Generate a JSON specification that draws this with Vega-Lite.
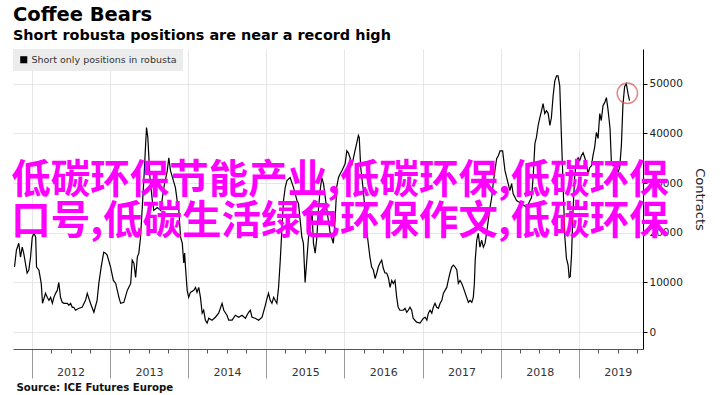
{
  "$schema": "https://vega.github.io/schema/vega-lite/v6.json",
  "width": 630,
  "height": 300,
  "autosize": {"type": "none"},
  "padding": {"left": 13, "top": 49, "right": 77, "bottom": 46},
  "background": "white",
  "config": {"view": {"stroke": null}, "font": "DejaVu Sans"},
  "title": {
    "text": "Coffee Bears",
    "subtitle": "Short robusta positions are near a record high",
    "anchor": "start",
    "frame": "group",
    "font": "DejaVu Sans",
    "fontSize": 19.5,
    "fontWeight": "bold",
    "color": "#000000",
    "subtitleFont": "DejaVu Sans",
    "subtitleFontSize": 14.4,
    "subtitleFontWeight": "bold",
    "subtitleColor": "#000000",
    "subtitlePadding": 3,
    "offset": 6
  },
  "datasets": {
    "series": [
      {"date":"2011-10-13","contracts":13100},{"date":"2011-10-22","contracts":16500},{"date":"2011-11-02","contracts":17900},{"date":"2011-11-10","contracts":15100},{"date":"2011-11-18","contracts":17100},{"date":"2011-11-25","contracts":15900},{"date":"2011-12-11","contracts":11900},{"date":"2011-12-19","contracts":12500},{"date":"2011-12-27","contracts":15100},
      {"date":"2012-01-04","contracts":19100},{"date":"2012-01-12","contracts":19900},{"date":"2012-01-20","contracts":19100},{"date":"2012-01-24","contracts":13100},{"date":"2012-02-04","contracts":12500},{"date":"2012-02-15","contracts":9800},{"date":"2012-02-21","contracts":5800},{"date":"2012-03-06","contracts":7800},{"date":"2012-03-14","contracts":7000},{"date":"2012-03-22","contracts":6400},{"date":"2012-03-30","contracts":7000},{"date":"2012-04-07","contracts":5800},{"date":"2012-04-14","contracts":7000},{"date":"2012-04-22","contracts":7800},{"date":"2012-04-30","contracts":8400},{"date":"2012-05-07","contracts":10000},{"date":"2012-05-15","contracts":7000},{"date":"2012-05-23","contracts":6000},{"date":"2012-05-31","contracts":5800},{"date":"2012-06-16","contracts":5800},{"date":"2012-06-23","contracts":5400},{"date":"2012-07-01","contracts":5800},{"date":"2012-07-09","contracts":5000},{"date":"2012-07-16","contracts":5000},{"date":"2012-07-24","contracts":4400},{"date":"2012-08-09","contracts":4800},{"date":"2012-08-24","contracts":5000},{"date":"2012-09-09","contracts":6400},{"date":"2012-09-17","contracts":7800},{"date":"2012-10-02","contracts":5800},{"date":"2012-10-18","contracts":4000},{"date":"2012-11-02","contracts":6400},{"date":"2012-11-10","contracts":9800},{"date":"2012-11-21","contracts":13100},{"date":"2012-12-03","contracts":16100},{"date":"2012-12-11","contracts":15900},{"date":"2012-12-19","contracts":15500},
      {"date":"2013-01-04","contracts":13100},{"date":"2013-01-17","contracts":10400},{"date":"2013-01-28","contracts":9800},{"date":"2013-02-12","contracts":7000},{"date":"2013-02-20","contracts":5800},{"date":"2013-03-07","contracts":6000},{"date":"2013-03-23","contracts":8400},{"date":"2013-04-08","contracts":9800},{"date":"2013-04-15","contracts":14500},{"date":"2013-04-23","contracts":13900},{"date":"2013-05-01","contracts":11000},{"date":"2013-05-09","contracts":15100},{"date":"2013-05-16","contracts":15900},{"date":"2013-05-24","contracts":19100},{"date":"2013-06-01","contracts":25100},{"date":"2013-06-09","contracts":31100},{"date":"2013-06-17","contracts":38000},{"date":"2013-06-21","contracts":41200},{"date":"2013-06-27","contracts":39200},{"date":"2013-07-07","contracts":31100},{"date":"2013-07-18","contracts":26500},{"date":"2013-07-25","contracts":24500},{"date":"2013-08-10","contracts":25100},{"date":"2013-08-26","contracts":24500},{"date":"2013-09-10","contracts":29100},{"date":"2013-09-26","contracts":32500},{"date":"2013-10-03","contracts":35100},{"date":"2013-10-11","contracts":32500},{"date":"2013-11-03","contracts":29100},{"date":"2013-11-11","contracts":26500},{"date":"2013-11-19","contracts":24500},{"date":"2013-11-27","contracts":19100},{"date":"2013-12-05","contracts":17900},{"date":"2013-12-12","contracts":13900},{"date":"2013-12-16","contracts":15900},{"date":"2013-12-20","contracts":13100},{"date":"2013-12-28","contracts":8400},
      {"date":"2014-01-04","contracts":7000},{"date":"2014-01-12","contracts":8000},{"date":"2014-01-28","contracts":8400},{"date":"2014-02-05","contracts":9000},{"date":"2014-02-12","contracts":8000},{"date":"2014-02-20","contracts":9000},{"date":"2014-02-28","contracts":7000},{"date":"2014-03-08","contracts":3800},{"date":"2014-03-15","contracts":4400},{"date":"2014-03-23","contracts":2400},{"date":"2014-03-31","contracts":1800},{"date":"2014-04-08","contracts":2800},{"date":"2014-04-23","contracts":2400},{"date":"2014-05-09","contracts":3000},{"date":"2014-05-24","contracts":3800},{"date":"2014-06-09","contracts":5800},{"date":"2014-06-17","contracts":4400},{"date":"2014-07-02","contracts":3400},{"date":"2014-07-10","contracts":2400},{"date":"2014-07-26","contracts":2400},{"date":"2014-08-10","contracts":3400},{"date":"2014-08-26","contracts":3000},{"date":"2014-09-10","contracts":3400},{"date":"2014-09-26","contracts":2800},{"date":"2014-10-11","contracts":4000},{"date":"2014-10-19","contracts":4400},{"date":"2014-10-27","contracts":3000},{"date":"2014-11-11","contracts":2800},{"date":"2014-11-27","contracts":2400},{"date":"2014-12-13","contracts":3000},{"date":"2014-12-28","contracts":5400},
      {"date":"2015-01-05","contracts":6800},{"date":"2015-01-12","contracts":7800},{"date":"2015-01-20","contracts":6400},{"date":"2015-01-28","contracts":5800},{"date":"2015-02-05","contracts":7000},{"date":"2015-02-12","contracts":6400},{"date":"2015-02-20","contracts":5800},{"date":"2015-02-28","contracts":9000},{"date":"2015-03-08","contracts":14500},{"date":"2015-03-16","contracts":21100},{"date":"2015-03-23","contracts":26500},{"date":"2015-03-31","contracts":29100},{"date":"2015-04-08","contracts":30500},{"date":"2015-04-23","contracts":31100},{"date":"2015-05-09","contracts":29100},{"date":"2015-05-25","contracts":26500},{"date":"2015-06-01","contracts":25900},{"date":"2015-06-09","contracts":22500},{"date":"2015-06-17","contracts":19100},{"date":"2015-06-24","contracts":17900},{"date":"2015-07-02","contracts":10000},{"date":"2015-07-10","contracts":14500},{"date":"2015-07-18","contracts":19100},{"date":"2015-07-26","contracts":21100},{"date":"2015-08-03","contracts":24500},{"date":"2015-08-10","contracts":17900},{"date":"2015-08-18","contracts":15900},{"date":"2015-08-26","contracts":19100},{"date":"2015-09-02","contracts":24500},{"date":"2015-09-10","contracts":28500},{"date":"2015-09-18","contracts":31100},{"date":"2015-09-26","contracts":29900},{"date":"2015-10-12","contracts":24500},{"date":"2015-10-27","contracts":20000},{"date":"2015-11-11","contracts":17900},{"date":"2015-11-19","contracts":22500},{"date":"2015-11-27","contracts":29300},{"date":"2015-12-05","contracts":31100},{"date":"2015-12-13","contracts":31900},{"date":"2015-12-21","contracts":32500},
      {"date":"2016-01-05","contracts":33900},{"date":"2016-01-13","contracts":36500},{"date":"2016-01-20","contracts":36100},{"date":"2016-01-28","contracts":35100},{"date":"2016-02-05","contracts":33500},{"date":"2016-02-12","contracts":34900},{"date":"2016-02-20","contracts":36500},{"date":"2016-02-28","contracts":38000},{"date":"2016-03-07","contracts":39600},{"date":"2016-03-11","contracts":39200},{"date":"2016-03-18","contracts":33100},{"date":"2016-03-30","contracts":28500},{"date":"2016-04-07","contracts":24500},{"date":"2016-04-15","contracts":20500},{"date":"2016-04-22","contracts":17900},{"date":"2016-04-30","contracts":15100},{"date":"2016-05-08","contracts":13100},{"date":"2016-05-16","contracts":12500},{"date":"2016-05-24","contracts":10800},{"date":"2016-06-01","contracts":11900},{"date":"2016-06-08","contracts":13100},{"date":"2016-06-16","contracts":13900},{"date":"2016-06-24","contracts":14500},{"date":"2016-07-01","contracts":12900},{"date":"2016-07-09","contracts":11900},{"date":"2016-07-17","contracts":11900},{"date":"2016-07-25","contracts":11000},{"date":"2016-08-02","contracts":9000},{"date":"2016-08-10","contracts":10400},{"date":"2016-08-17","contracts":9800},{"date":"2016-08-25","contracts":10400},{"date":"2016-09-02","contracts":7000},{"date":"2016-09-09","contracts":5000},{"date":"2016-09-17","contracts":4400},{"date":"2016-10-03","contracts":4400},{"date":"2016-10-11","contracts":4800},{"date":"2016-10-19","contracts":4000},{"date":"2016-10-26","contracts":4400},{"date":"2016-11-03","contracts":5000},{"date":"2016-11-11","contracts":4400},{"date":"2016-11-18","contracts":2800},{"date":"2016-12-04","contracts":2000},{"date":"2016-12-20","contracts":1800},
      {"date":"2017-01-05","contracts":2800},{"date":"2017-01-13","contracts":3000},{"date":"2017-01-21","contracts":2400},{"date":"2017-01-28","contracts":3800},{"date":"2017-02-05","contracts":4400},{"date":"2017-02-13","contracts":3800},{"date":"2017-02-20","contracts":5000},{"date":"2017-02-28","contracts":5800},{"date":"2017-03-08","contracts":5000},{"date":"2017-03-16","contracts":4800},{"date":"2017-03-24","contracts":5800},{"date":"2017-04-01","contracts":6400},{"date":"2017-04-08","contracts":7800},{"date":"2017-04-16","contracts":8400},{"date":"2017-04-24","contracts":9000},{"date":"2017-05-01","contracts":10400},{"date":"2017-05-09","contracts":11900},{"date":"2017-05-17","contracts":13100},{"date":"2017-05-25","contracts":13500},{"date":"2017-06-02","contracts":13100},{"date":"2017-06-10","contracts":12500},{"date":"2017-06-17","contracts":9800},{"date":"2017-06-25","contracts":10400},{"date":"2017-07-03","contracts":9800},{"date":"2017-07-10","contracts":9000},{"date":"2017-07-18","contracts":8000},{"date":"2017-07-26","contracts":7000},{"date":"2017-08-03","contracts":6000},{"date":"2017-08-11","contracts":6400},{"date":"2017-08-19","contracts":6000},{"date":"2017-08-26","contracts":7000},{"date":"2017-08-31","contracts":9800},{"date":"2017-09-04","contracts":14500},{"date":"2017-09-11","contracts":18500},{"date":"2017-09-18","contracts":19900},{"date":"2017-09-26","contracts":17100},{"date":"2017-10-04","contracts":18500},{"date":"2017-10-12","contracts":17100},{"date":"2017-10-20","contracts":17900},{"date":"2017-10-27","contracts":19900},{"date":"2017-11-04","contracts":22500},{"date":"2017-11-12","contracts":25100},{"date":"2017-11-20","contracts":27100},{"date":"2017-11-27","contracts":29900},{"date":"2017-12-05","contracts":32500},{"date":"2017-12-13","contracts":34900},{"date":"2017-12-21","contracts":35500},{"date":"2017-12-29","contracts":36500},
      {"date":"2018-01-10","contracts":36500},{"date":"2018-01-21","contracts":32500},{"date":"2018-01-29","contracts":31100},{"date":"2018-02-05","contracts":29900},{"date":"2018-02-13","contracts":28500},{"date":"2018-02-21","contracts":29900},{"date":"2018-02-28","contracts":27900},{"date":"2018-03-16","contracts":26500},{"date":"2018-04-08","contracts":25900},{"date":"2018-05-02","contracts":25100},{"date":"2018-05-25","contracts":27100},{"date":"2018-06-02","contracts":31500},{"date":"2018-06-10","contracts":38000},{"date":"2018-06-17","contracts":39200},{"date":"2018-06-25","contracts":41600},{"date":"2018-07-03","contracts":43200},{"date":"2018-07-11","contracts":44600},{"date":"2018-07-18","contracts":46000},{"date":"2018-07-26","contracts":44000},{"date":"2018-08-03","contracts":44600},{"date":"2018-08-11","contracts":44000},{"date":"2018-08-19","contracts":41600},{"date":"2018-08-26","contracts":43200},{"date":"2018-09-03","contracts":47600},{"date":"2018-09-11","contracts":50600},{"date":"2018-09-19","contracts":51600},{"date":"2018-09-26","contracts":51600},{"date":"2018-10-04","contracts":49600},{"date":"2018-10-12","contracts":39200},{"date":"2018-10-20","contracts":29100},{"date":"2018-10-28","contracts":19100},{"date":"2018-11-04","contracts":14900},{"date":"2018-11-12","contracts":13500},{"date":"2018-11-17","contracts":11000},{"date":"2018-11-22","contracts":11200},{"date":"2018-11-28","contracts":15500},{"date":"2018-12-05","contracts":24500},{"date":"2018-12-13","contracts":31500},{"date":"2018-12-21","contracts":34500},{"date":"2018-12-29","contracts":35100},
      {"date":"2019-01-05","contracts":34500},{"date":"2019-01-13","contracts":35500},{"date":"2019-01-21","contracts":36100},{"date":"2019-01-29","contracts":35100},{"date":"2019-02-05","contracts":34100},{"date":"2019-02-13","contracts":31900},{"date":"2019-02-21","contracts":33100},{"date":"2019-03-01","contracts":33500},{"date":"2019-03-08","contracts":35500},{"date":"2019-03-16","contracts":37200},{"date":"2019-03-24","contracts":40200},{"date":"2019-04-01","contracts":39000},{"date":"2019-04-09","contracts":44000},{"date":"2019-04-16","contracts":42600},{"date":"2019-04-24","contracts":45600},{"date":"2019-05-02","contracts":46200},{"date":"2019-05-10","contracts":47200},{"date":"2019-05-17","contracts":45000},{"date":"2019-05-22","contracts":43000},{"date":"2019-05-27","contracts":41000},{"date":"2019-06-02","contracts":34500},{"date":"2019-06-10","contracts":33500},{"date":"2019-06-17","contracts":33900},{"date":"2019-06-25","contracts":34100},{"date":"2019-07-03","contracts":32100},{"date":"2019-07-11","contracts":33100},{"date":"2019-07-19","contracts":37600},{"date":"2019-07-26","contracts":45600},{"date":"2019-08-03","contracts":49400},{"date":"2019-08-11","contracts":50000},{"date":"2019-08-19","contracts":48000},{"date":"2019-08-26","contracts":46600}
    ],
    "highlight": [{"date": "2019-08-16", "contracts": 48100}],
    "overlay": [
      {"date": "2015-12-12", "contracts": 30500, "text": "低碳环保节能产业,低碳环保,低碳环保"},
      {"date": "2015-12-12", "contracts": 22200, "text": "口号,低碳生活绿色环保作文,低碳环保"}
    ]
  },
  "layer": [
    {
      "data": {"name": "series"},
      "mark": {"type": "line", "strokeWidth": 1.2, "color": "#000000"},
      "encoding": {
        "x": {
          "field": "date",
          "type": "temporal",
          "scale": {"type": "utc", "domain": ["2011-10-06", "2019-10-28"]},
          "axis": {
            "orient": "bottom",
            "tickCount": {"interval": "month", "step": 3},
            "format": "%Y",
            "labelExpr": "utcmonth(datum.value) == 0 ? utcFormat(datum.value, '%Y') : ''",
            "labelOverlap": false,
            "labelBound": false,
            "labelFlush": false,
            "labelOffset": 39,
            "labelBaseline": "top",
            "labelPadding": {"condition": {"test": "utcmonth(datum.value) == 0", "value": -12}, "value": 2},
            "labelFontSize": 11,
            "labelColor": "#333333",
            "tickSize": {"condition": {"test": "utcmonth(datum.value) == 0", "value": 29}, "value": 4},
            "tickColor": {"condition": {"test": "utcmonth(datum.value) == 0", "value": "#9a9a9a"}, "value": "#555555"},
            "tickWidth": 1,
            "domainColor": "#555555",
            "grid": true,
            "gridColor": "#e6e6e6",
            "gridOpacity": {"condition": {"test": "utcmonth(datum.value) == 0", "value": 1}, "value": 0},
            "title": "Source: ICE Futures Europe",
            "titleAnchor": "start",
            "titleAlign": "left",
            "titleBaseline": "alphabetic",
            "titleX": 3,
            "titleY": 41,
            "titleFontSize": 10.2,
            "titleFontWeight": "bold",
            "titleColor": "#111111"
          }
        },
        "y": {
          "field": "contracts",
          "type": "quantitative",
          "scale": {"domain": [-3400, 57000], "nice": false, "zero": false},
          "axis": {
            "orient": "right",
            "values": [0, 5000, 10000, 15000, 20000, 25000, 30000, 35000, 40000, 45000, 50000],
            "format": "d",
            "labelExpr": "datum.value % 10000 == 0 ? datum.label : ''",
            "labelFontSize": 10.5,
            "labelColor": "#222222",
            "labelPadding": 2,
            "tickSize": 4,
            "tickColor": "#000000",
            "domainColor": "#000000",
            "grid": true,
            "gridColor": "#e6e6e6",
            "gridOpacity": {"condition": {"test": "datum.value % 10000 == 0", "value": 1}, "value": 0},
            "title": "Contracts",
            "titleFontSize": 13,
            "titleFontWeight": "normal",
            "titleColor": "#222222",
            "titlePadding": 10
          }
        },
        "color": {
          "datum": "Short only positions in robusta",
          "type": "nominal",
          "scale": {"range": ["#000000"]},
          "legend": {
            "orient": "top-left",
            "offset": 0,
            "title": null,
            "fillColor": "#ececec",
            "padding": 6,
            "symbolType": "square",
            "symbolSize": 50,
            "symbolFillColor": "#000000",
            "symbolStrokeWidth": 0,
            "labelFontSize": 9.5,
            "labelColor": "#333333",
            "labelOffset": 3
          }
        }
      }
    },
    {
      "data": {"name": "highlight"},
      "mark": {"type": "point", "shape": "circle", "filled": false, "size": 415, "stroke": "#d9534f", "strokeWidth": 1.5},
      "encoding": {
        "x": {"field": "date", "type": "temporal"},
        "y": {"field": "contracts", "type": "quantitative"}
      }
    },
    {
      "data": {"name": "overlay"},
      "mark": {"type": "text", "font": "Noto Sans CJK SC", "fontSize": 39.5, "fontWeight": "bold", "color": "#ff00ff", "align": "center", "baseline": "middle"},
      "encoding": {
        "x": {"field": "date", "type": "temporal"},
        "y": {"field": "contracts", "type": "quantitative"},
        "text": {"field": "text"}
      }
    }
  ]
}
